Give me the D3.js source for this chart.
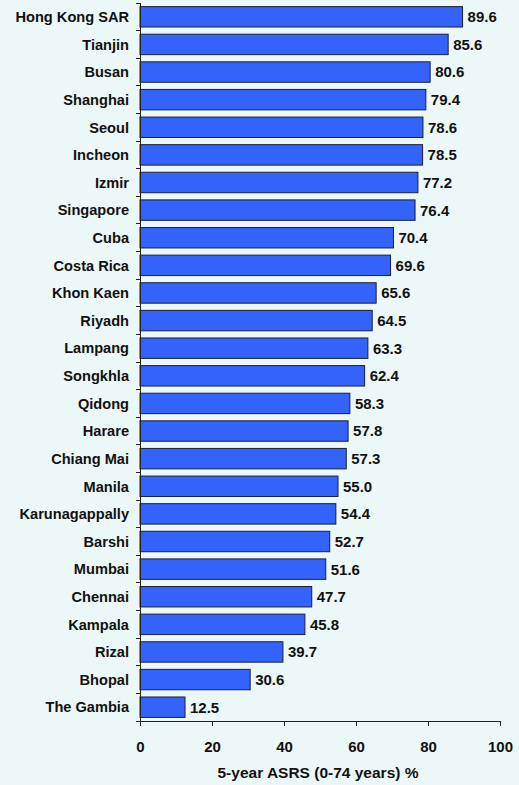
<!DOCTYPE html>
<html lang="en">
<head>
<meta charset="UTF-8">
<title>5-year ASRS by registry</title>
<script src="https://cdn.jsdelivr.net/npm/d3@7"></script>
<style>
	body{ margin:0; background:#ecf7f7; }
	text{ font-family: "Liberation Sans", Arial, sans-serif; font-weight: bold; fill:#111; }
	.axis path, .axis line{ stroke:#222; shape-rendering: crispEdges; }
</style>
</head>
<body>
<div id="main"></div>
<script>
var registries = ["Hong Kong SAR","Tianjin","Busan","Shanghai","Seoul","Incheon","Izmir","Singapore",
	"Cuba","Costa Rica","Khon Kaen","Riyadh","Lampang","Songkhla","Qidong","Harare","Chiang Mai",
	"Manila","Karunagappally","Barshi","Mumbai","Chennai","Kampala","Rizal","Bhopal","The Gambia"];
var asrs = [89.6,85.6,80.6,79.4,78.6,78.5,77.2,76.4,70.4,69.6,65.6,64.5,63.3,62.4,58.3,57.8,57.3,
	55.0,54.4,52.7,51.6,47.7,45.8,39.7,30.6,12.5];
var xTicks = [0,20,40,60,80,100];
var xTitle = "5-year ASRS (0-74 years) %";

var width = 519, height = 785,
	margin = {left:140, right:19, top:3, bottom:64};

var svg = d3.select("#main").append("svg")
	.attr("width", width)
	.attr("height", height)
	.style("display","block")
	.style("background","#ecf7f7");

var x = d3.scaleLinear()
	.domain([0,100])
	.range([margin.left, width - margin.right]);

var y = d3.scaleBand()
	.domain(registries)
	.range([margin.top, height - margin.bottom])
	.paddingInner(0.26)
	.paddingOuter(0.13);

// bars
svg.selectAll("rect.bar")
	.data(asrs)
	.enter()
	.append("rect")
	.attr("class","bar")
	.attr("x", x(0))
	.attr("y", function(d,i){ return y(registries[i]); })
	.attr("width", function(d){ return x(d) - x(0); })
	.attr("height", y.bandwidth())
	.attr("fill", "#3363fb")
	.attr("stroke", "#1c1f3a")
	.attr("stroke-width", 1);

// value labels
svg.selectAll("text.val")
	.data(asrs)
	.enter()
	.append("text")
	.attr("class","val")
	.attr("x", function(d){ return x(d) + 5; })
	.attr("y", function(d,i){ return y(registries[i]) + y.bandwidth()/2; })
	.attr("dy","0.36em")
	.style("font-size","15px")
	.text(function(d){ return d.toFixed(1); });

// y axis: ticks at band boundaries, labels separately
var yAxisG = svg.append("g").attr("class","axis");
yAxisG.append("line")
	.attr("x1", x(0)).attr("x2", x(0))
	.attr("y1", margin.top).attr("y2", height - margin.bottom);
var bounds = d3.range(registries.length + 1).map(function(i){
	return margin.top + i * (height - margin.bottom - margin.top) / registries.length;
});
yAxisG.selectAll("line.tk")
	.data(bounds)
	.enter()
	.append("line")
	.attr("class","tk")
	.attr("x1", x(0) - 4).attr("x2", x(0))
	.attr("y1", function(d){ return d; })
	.attr("y2", function(d){ return d; });

svg.selectAll("text.cat")
	.data(registries)
	.enter()
	.append("text")
	.attr("class","cat")
	.attr("x", x(0) - 11)
	.attr("y", function(d){ return y(d) + y.bandwidth()/2; })
	.attr("dy","0.36em")
	.attr("text-anchor","end")
	.style("font-size","14.6px")
	.text(function(d){ return d; });

// x axis
var xAx = d3.axisBottom(x)
	.tickValues(xTicks)
	.tickSize(5)
	.tickSizeOuter(0)
	.tickPadding(15)
	.tickFormat(d3.format("d"));

var xAxisG = svg.append("g")
	.attr("class","axis")
	.attr("transform","translate(0," + (height - margin.bottom) + ")")
	.call(xAx);
xAxisG.select("path.domain").attr("d", "M" + (x(0) - 4) + ",0.5H" + x(100));
xAxisG.selectAll("text")
	.style("font-size","15px")
	.style("font-family", '"Liberation Sans", Arial, sans-serif')
	.style("font-weight","bold")
	.attr("fill","#111");

svg.append("text")
	.attr("x", (x(0) + x(100)) / 2 - 2)
	.attr("y", height - 7)
	.attr("text-anchor","middle")
	.style("font-size","15.5px")
	.text(xTitle);
</script>
</body>
</html>
